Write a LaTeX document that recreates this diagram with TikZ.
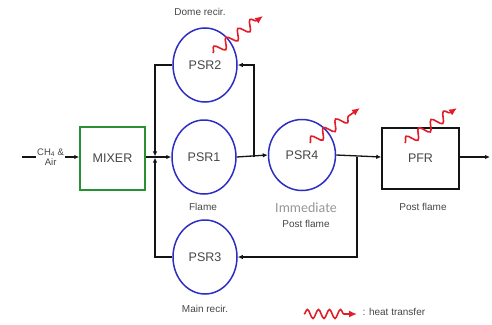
\documentclass[tikz,border=0pt]{standalone}
\usepackage{fontspec}
\setmainfont{Liberation Sans}
\newfontfamily\lightfont{Carlito}
\usetikzlibrary{arrows.meta,shapes.geometric,decorations.pathmorphing}
\definecolor{psrcol}{RGB}{45,45,195}
\definecolor{mixcol}{RGB}{40,145,50}
\definecolor{heatcol}{RGB}{225,30,40}
\definecolor{linecol}{RGB}{20,20,20}
\definecolor{labelcol}{RGB}{70,70,70}
\definecolor{softcol}{RGB}{150,150,150}

\begin{document}
\begin{tikzpicture}[
  x=1pt, y=-1pt,
  psr/.style={
    draw=psrcol, line width=1.5pt, ellipse,
    minimum width=64pt, minimum height=74pt, inner sep=0pt,
    font=\fontsize{12.5}{14}\selectfont, text=labelcol
  },
  unit/.style={
    draw, line width=1.5pt, rectangle,
    inner sep=0pt, font=\fontsize{12.5}{14}\selectfont, text=labelcol
  },
  tag/.style={font=\fontsize{10}{11}\selectfont, text=labelcol, align=center},
  feedlbl/.style={font=\fontsize{9.5}{10.5}\selectfont, text=labelcol, align=center,
    fill=white, inner sep=1pt},
  flow/.style={draw=linecol, line width=1.3pt, -{Latex[length=5pt,width=4.5pt]}},
  heat/.style={draw=heatcol, line width=1.6pt, decorate,
    decoration={snake, amplitude=5pt, segment length=15pt, post length=7pt},
    -{Latex[length=8pt,width=7pt]}}
]
\useasboundingbox (0,0) rectangle (492,324);

%% ===================== Units =====================
\node[unit, draw=mixcol, minimum width=65pt, minimum height=63pt] (mixer) at (112.5,158.5) {MIXER};
\node[psr] (psr2) at (205,65)  {PSR2};
\node[psr] (psr1) at (204,157) {PSR1};
\node[psr] (psr3) at (205,257) {PSR3};
\node[psr, minimum width=67pt, minimum height=71pt] (psr4) at (302,155) {PSR4};
\node[unit, draw=linecol, minimum width=77pt, minimum height=61pt] (pfr) at (420.5,158.5) {PFR};

%% ===================== Labels =====================
\node[tag] (ldome)  at (200,12)  {Dome recir.};
\node[tag] (lflame) at (203,207) {Flame};
\node[tag] (lmain)  at (205,309) {Main recir.};
\node[font=\lightfont\fontsize{14}{15}\selectfont, text=softcol] (limm) at (306,208) {Immediate};
\node[tag] (lpost4) at (306,224) {Post flame};
\node[tag] (lpostf) at (423,207) {Post flame};

%% ===================== Main flow =====================
\coordinate (feed) at (22,157);
\coordinate (jn)   at (155,157);
\coordinate (sp1)  at (254,157);
\coordinate (sp2)  at (357,157);
\coordinate (out)  at (490,157);

\draw[flow] (feed) -- node[feedlbl] (lfeed) {CH\textsubscript{4} \&\\Air} (mixer.west |- feed);
\draw[flow] (mixer.east |- jn) -- (psr1.west);
\draw[flow] (psr1.east) -- (psr4.west);
\draw[flow] (psr4.east) -- (pfr.west |- sp2);
\draw[flow] (pfr.east |- out) -- (out);

%% ===================== Recirculation =====================
\draw[flow, shorten >=0.6pt] (psr2.west) -| (jn);
\draw[flow, shorten >=0.6pt] (psr3.west) -| (jn);
\draw[flow] (sp1) |- (psr2.east);
\draw[flow] (sp2) |- (psr3.east);

%% ===================== Heat transfer =====================
\coordinate (h2a) at (213,53);  \coordinate (h2b) at (263,16);
\coordinate (h4a) at (310,143); \coordinate (h4b) at (360,108);
\coordinate (hfa) at (405,143); \coordinate (hfb) at (457,108);
\draw[heat] (h2a) -- (h2b);
\draw[heat] (h4a) -- (h4b);
\draw[heat] (hfa) -- (hfb);

%% ===================== Legend =====================
\coordinate (hla) at (304,314); \coordinate (hlb) at (357,314);
\draw[heat, decoration={snake, amplitude=4.5pt, segment length=11pt, post length=9pt}] (hla) -- (hlb);
\node[tag, anchor=west] (lheat) at (359,312) {: heat transfer};

\end{tikzpicture}
\end{document}
